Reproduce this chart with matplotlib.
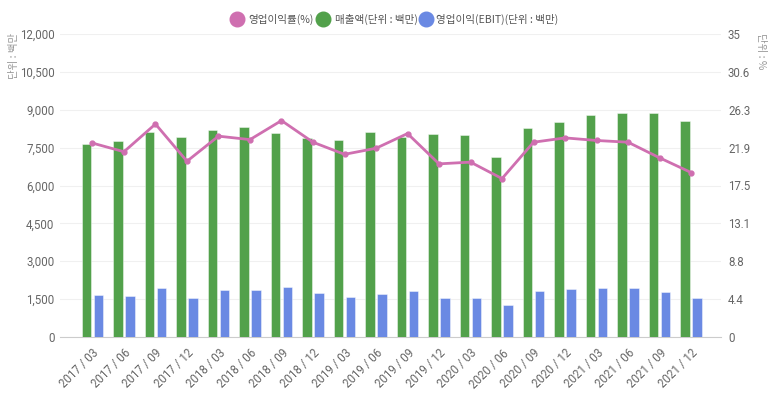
import matplotlib
matplotlib.use("Agg")
import matplotlib.pyplot as plt
import numpy as np
from matplotlib.lines import Line2D

categories = ["2017 / 03", "2017 / 06", "2017 / 09", "2017 / 12",
              "2018 / 03", "2018 / 06", "2018 / 09", "2018 / 12",
              "2019 / 03", "2019 / 06", "2019 / 09", "2019 / 12",
              "2020 / 03", "2020 / 06", "2020 / 09", "2020 / 12",
              "2021 / 03", "2021 / 06", "2021 / 09", "2021 / 12"]
sales = [7630, 7750, 8110, 7930, 8210, 8330, 8090, 7880, 7800, 8110,
         7930, 8050, 8010, 7120, 8290, 8530, 8790, 8880, 8880, 8550]
ebit = [1660, 1610, 1930, 1560, 1850, 1850, 1980, 1730, 1600, 1720,
        1810, 1560, 1560, 1250, 1810, 1900, 1940, 1940, 1770, 1560]
margin = [22.4, 21.4, 24.6, 20.3, 23.2, 22.8, 25.0, 22.5, 21.1, 21.8,
          23.5, 20.0, 20.2, 18.3, 22.5, 23.0, 22.7, 22.5, 20.7, 19.0]
left_ticks = [0, 1500, 3000, 4500, 6000, 7500, 9000, 10500, 12000]
right_ticks = [0, 4.375, 8.75, 13.125, 17.5, 21.875, 26.25, 30.625, 35]
right_labels = ["0", "4.4", "8.8", "13.1", "17.5", "21.9", "26.3", "30.6", "35"]
legend_labels = ["영업이익률(%)", "매출액(단위 : 백만)", "영업이익(EBIT)(단위 : 백만)"]

KR = ["Noto Sans CJK KR", "DejaVu Sans"]
NUM = ["Roboto", "DejaVu Sans"]
GREEN = "#52a14b"
BLUE = "#6a89e3"
PINK = "#cf6fb0"
TXT = "#666666"

W, H = 773, 395
fig = plt.figure(figsize=(W / 100, H / 100), dpi=100)
ax = fig.add_axes([60 / W, (H - 337) / H, (721 - 60) / W, (337 - 34) / H])
ax2 = ax.twinx()

x = np.arange(len(categories))
bw = 0.30
off = 0.195
ax.bar(x - off, sales, bw, color=GREEN, edgecolor=(1, 1, 1, 0.5), linewidth=0.6, zorder=3)
ax.bar(x + off, ebit, bw, color=BLUE, edgecolor=(1, 1, 1, 0.5), linewidth=0.6, zorder=3)
ax2.plot(x, margin, color=PINK, linewidth=2.0, marker="o", markersize=3.5, zorder=4)

ax.set_xlim(-1.03, 19.95)
ax.set_ylim(0, 12000)
ax2.set_ylim(0, 35)
ax.set_yticks(left_ticks)
ax.set_yticklabels([f"{v:,}" for v in left_ticks], fontfamily=NUM, fontsize=8.3, color=TXT)
ax2.set_yticks(right_ticks)
ax2.set_yticklabels(right_labels, fontfamily=NUM, fontsize=8.3, color=TXT)
ax.set_xticks(x)
ax.set_xticklabels(categories, rotation=45, ha="right", rotation_mode="anchor",
                   fontfamily=NUM, fontsize=8.3, color=TXT)
ax.tick_params(axis="x", length=0, pad=7)
ax.tick_params(axis="y", length=0, pad=4)
ax2.tick_params(axis="y", length=0, pad=5)

ax.grid(axis="y", color="#f0f0f0", linewidth=0.8, zorder=0)
ax.set_axisbelow(True)
for a in (ax, ax2):
    for s in ("top", "left", "right"):
        a.spines[s].set_visible(False)
    a.spines["bottom"].set_color("#cccccc")
ax2.spines["bottom"].set_visible(False)

fig.text(14 / W, 1 - 33 / H, "단위 : 백만", rotation=90, ha="center", va="top",
         fontsize=7.5, color="#999999", fontfamily=KR)
fig.text(761 / W, 1 - 33 / H, "단위 : %", rotation=270, ha="center", va="top",
         fontsize=7.5, color="#999999", fontfamily=KR)

# legend drawn manually in figure pixel positions
circle_x = [237, 323, 426]
text_x = [248, 335, 436]
for cx, tx, col, lab in zip(circle_x, text_x, [PINK, GREEN, BLUE], legend_labels):
    fig.add_artist(Line2D([cx / W], [1 - 19 / H], transform=fig.transFigure,
                          linestyle="none", marker="o", markersize=10.5, color=col))
    fig.text(tx / W, 1 - 19 / H, lab, ha="left", va="center", fontsize=7.6,
             color="#555555", fontfamily=KR)

fig.savefig("out.png", dpi=100)
